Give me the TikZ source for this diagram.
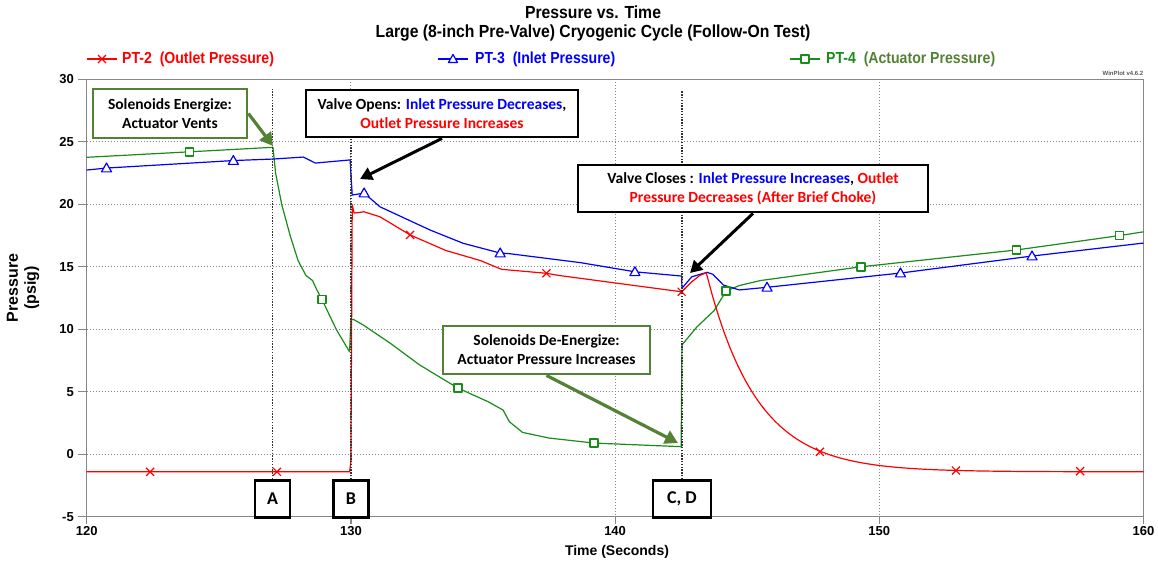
\documentclass[tikz,border=0pt]{standalone}
\usepackage{fontspec}
\setmainfont{Liberation Sans}
\newfontfamily\narrowsf[FakeStretch=0.88]{Liberation Sans}
\newfontfamily\titlesf[FakeStretch=0.9]{Liberation Sans}
\newfontfamily\calibri[BoldFont={Carlito Bold}]{Carlito}
\usetikzlibrary{arrows.meta}
\definecolor{pred}{RGB}{255,0,0}
\definecolor{pblue}{RGB}{0,0,255}
\definecolor{pgreen}{RGB}{25,140,25}
\definecolor{cgreen}{RGB}{84,130,53}
\definecolor{axgray}{RGB}{135,135,135}
\begin{document}
\begin{tikzpicture}[x=1pt,y=-1pt,
  redline/.style={draw=pred,line width=1.2pt,line join=round},
  blueline/.style={draw=pblue,line width=1.2pt,line join=round},
  greenline/.style={draw=pgreen,line width=1.2pt,line join=round},
  gridline/.style={draw=axgray,line width=0.9pt,dash pattern=on 1pt off 2pt},
  markline/.style={draw=black!80,line width=1.6pt,dash pattern=on 1.4pt off 1.4pt},
  axisline/.style={draw=axgray,line width=1.2pt},
  ticklab/.style={font=\bfseries\fontsize{13}{15}\selectfont,inner sep=0pt},
  leglab/.style={font=\narrowsf\bfseries\fontsize{16}{18}\selectfont,inner sep=0pt,anchor=west},
  titlelab/.style={font=\titlesf\bfseries\fontsize{17.5}{20}\selectfont,inner sep=0pt},
  gbox/.style={draw=cgreen,line width=2.8pt,fill=white,align=center,inner sep=0pt,
    font=\calibri\bfseries\fontsize{15.5}{19}\selectfont},
  kbox/.style={draw=black,line width=2.8pt,fill=white,align=center,inner sep=0pt,
    font=\calibri\bfseries\fontsize{15.5}{19}\selectfont},
  letterbox/.style={draw=black,line width=2.8pt,fill=white,inner sep=0pt,minimum height=37pt,
    font=\calibri\bfseries\fontsize{18}{20}\selectfont},
  garrow/.style={draw=cgreen,line width=3.2pt,-{Triangle[length=13pt,width=14pt]}},
  karrow/.style={draw=black,line width=3pt,-{Triangle[length=12pt,width=13pt]}}
]
\useasboundingbox (0,0) rectangle (1158,563);
\fill[white] (0,0) rectangle (1158,563);

% titles
\node[titlelab] (title1) at (593,12) {Pressure vs. Time};
\node[titlelab] (title2) at (593,33) {Large (8-inch Pre-Valve) Cryogenic Cycle (Follow-On Test)};

% legend
\draw[redline] (87,59) -- (117,59);
\draw[redline] (102,59) +(-4pt,-4pt) -- +(4pt,4pt) +(-4pt,4pt) -- +(4pt,-4pt);
\node[leglab,text=pred] (leg2) at (122,59) {PT-2\ \ (Outlet Pressure)};
\draw[blueline] (438,59) -- (468,59);
\draw[blueline,fill=white] (453,59) +(0,4.5pt) -- +(-4.5pt,-3.5pt) -- +(4.5pt,-3.5pt) -- cycle;
\node[leglab,text=pblue] (leg3) at (475,59) {PT-3\ \ (Inlet Pressure)};
\draw[greenline] (790,59) -- (820,59);
\draw[greenline,fill=white] (805,59) +(-4pt,-4pt) rectangle +(4pt,4pt);
\node[leglab,text=pgreen] (leg4) at (826,59) {PT-4\ \ \textcolor{cgreen}{(Actuator Pressure)}};

\node[font=\bfseries\fontsize{6}{7}\selectfont,text=black!65,anchor=east,inner sep=0pt] (winplot) at (1143.5,73) {WinPlot v4.6.2};

% grid
\foreach \yy in {141.8,204.3,266.8,329.3,391.8,454.3}
  \draw[gridline] (86.7,\yy) -- (1143.5,\yy);
\foreach \xx in {350.9,615.1,879.3}
  \draw[gridline] (\xx,79.3) -- (\xx,516.7);

% axes frame
\draw[axisline] (86.7,79.3) rectangle (1143.5,516.7);
\foreach \v [count=\i from 0] in {30,25,20,15,10,5,0,-5}{
  \draw[axisline] (78,79.3+62.5*\i) -- (86.7,79.3+62.5*\i);
  \node[ticklab,anchor=east] (yl\i) at (74,79.3+62.5*\i) {\v};
}
\foreach \v [count=\i from 0] in {120,130,140,150,160}{
  \draw[axisline] (86.7+264.2*\i,516.7) -- (86.7+264.2*\i,524);
  \node[ticklab,anchor=north] (xl\i) at (86.7+264.2*\i,526) {\v};
}
\node[font=\bfseries\fontsize{14}{16}\selectfont,inner sep=0pt] (xlabel) at (617,552) {Time (Seconds)};
\node[font=\bfseries\fontsize{16}{18}\selectfont,align=center,rotate=90,inner sep=0pt] (ylabel) at (23,288) {Pressure\\(psig)};

% data
\begin{scope}[shift={(86.7pt,-454.3pt)},x=26.42pt,y=12.5pt]
  \draw[greenline] (0,23.76) -- (3.9,24.2) -- (7.05,24.56) -- (7.15,22.5) -- (7.38,20) -- (7.7,17.5)
    -- (8.0,15.5) -- (8.3,14.3) -- (8.55,13.9) -- (8.7,13.2) -- (8.9,12.4) -- (9.46,9.94) -- (9.95,8.2)
    -- (10.0,10.75) -- (10.09,10.8) -- (10.47,10.34) -- (11.48,8.9) -- (12.6,7.15) -- (14.05,5.3)
    -- (15.2,4.2) -- (15.76,3.54) -- (16.0,2.6) -- (16.5,1.75) -- (17.5,1.3) -- (19.2,0.9) -- (22.5,0.61)
    -- (22.53,8.75) -- (23.1,10.2) -- (23.5,11.0) -- (23.75,11.5) -- (24.2,13.06) -- (24.7,13.5)
    -- (25.5,13.9) -- (29.3,15.0) -- (35.2,16.35) -- (39.1,17.5) -- (40,17.8);
  \draw[blueline] (0,22.74) -- (0.75,22.9) -- (5.55,23.5) -- (7.05,23.62) -- (8.2,23.78) -- (8.65,23.3)
    -- (9.97,23.55) -- (10.05,20.74) -- (10.5,20.9) -- (11.1,19.8) -- (13.0,17.94) -- (14.25,16.88)
    -- (15.65,16.1) -- (16.0,16.05) -- (18.7,15.33) -- (20.75,14.6) -- (22.52,14.26) -- (22.53,13.28)
    -- (22.9,14.2) -- (23.48,14.56) -- (23.7,14.4) -- (24.1,13.54) -- (24.7,13.15) -- (25.75,13.36)
    -- (30.8,14.5) -- (35.78,15.86) -- (40,16.9);
  \draw[redline] (0,-1.4) -- (9.95,-1.4) -- (10.0,-0.6) -- (10.05,19.97) -- (10.12,19.3) -- (10.5,19.4)
    -- (11.1,19.0) -- (12.24,17.55) -- (13.6,16.3) -- (14.9,15.5) -- (15.7,14.8) -- (17.4,14.48)
    -- (17.9,14.3) -- (22.52,13.0) -- (22.9,13.8) -- (23.2,14.3) -- (23.45,14.53);
  \draw[redline] plot[domain=23.45:40,samples=70,smooth] (\x,{-1.4+15.93*exp(-(\x-23.45)/1.9)});
  % markers
  \foreach \t/\p in {2.4/-1.4,7.2/-1.4,12.24/17.55,17.4/14.48,22.52/13.0,27.75/0.2,32.9/-1.3,37.6/-1.35}
    \draw[redline] (\t,\p) +(-4pt,-4pt) -- +(4pt,4pt) +(-4pt,4pt) -- +(4pt,-4pt);
  \foreach \t/\p in {0.75/22.9,5.55/23.5,10.5/20.9,15.65/16.1,20.75/14.6,25.75/13.36,30.8/14.5,35.78/15.86}
    \draw[blueline,fill=white] (\t,\p) +(0,5pt) -- +(-5pt,-3.8pt) -- +(5pt,-3.8pt) -- cycle;
  \foreach \t/\p in {3.9/24.2,8.9/12.4,14.05/5.3,19.2/0.9,24.2/13.06,29.3/15.0,35.2/16.35,39.1/17.5}
    \draw[greenline,line width=1.4pt,fill=white] (\t,\p) +(-4pt,-4pt) rectangle +(4pt,4pt);
\end{scope}

% event boxes and marker lines
\node[letterbox,minimum width=35pt] (boxA) at (272.5,499) {A};
\node[letterbox,minimum width=35pt] (boxB) at (351,499) {B};
\node[letterbox,minimum width=58pt] (boxCD) at (682,499) {C, D};
\draw[markline] (boxA.north) -- ++(0,-391);
\draw[markline] (boxB.north) -- ++(0,-391);
\draw[markline] (boxCD.north) -- ++(0,-388);

% callouts
\coordinate (tipEn) at (273,146);
\coordinate (tipVO) at (360,179);
\coordinate (tipVC) at (690,273);
\coordinate (tipDE) at (678,443);
\node[gbox,minimum width=154pt,minimum height=49pt] (boxEn) at (170,113.5) {Solenoids Energize:\\Actuator Vents};
\node[kbox,minimum width=272pt,minimum height=47pt] (boxVO) at (442,113.5)
  {Valve Opens: \textcolor{pblue}{Inlet Pressure Decreases},\\\textcolor{pred}{Outlet Pressure Increases}};
\node[kbox,minimum width=350pt,minimum height=47pt] (boxVC) at (753,188.5)
  {Valve Closes : \textcolor{pblue}{Inlet Pressure Increases}, \textcolor{pred}{Outlet}\\\textcolor{pred}{Pressure Decreases (After Brief Choke)}};
\node[gbox,minimum width=207pt,minimum height=48pt] (boxDE) at (546.5,350) {Solenoids De-Energize:\\Actuator Pressure Increases};
\draw[garrow] (boxEn.east) -- (tipEn);
\draw[karrow] (boxVO.south) -- (tipVO);
\draw[karrow] (boxVC.south) -- (tipVC);
\draw[garrow] (boxDE.south) -- (tipDE);
\end{tikzpicture}
\end{document}
